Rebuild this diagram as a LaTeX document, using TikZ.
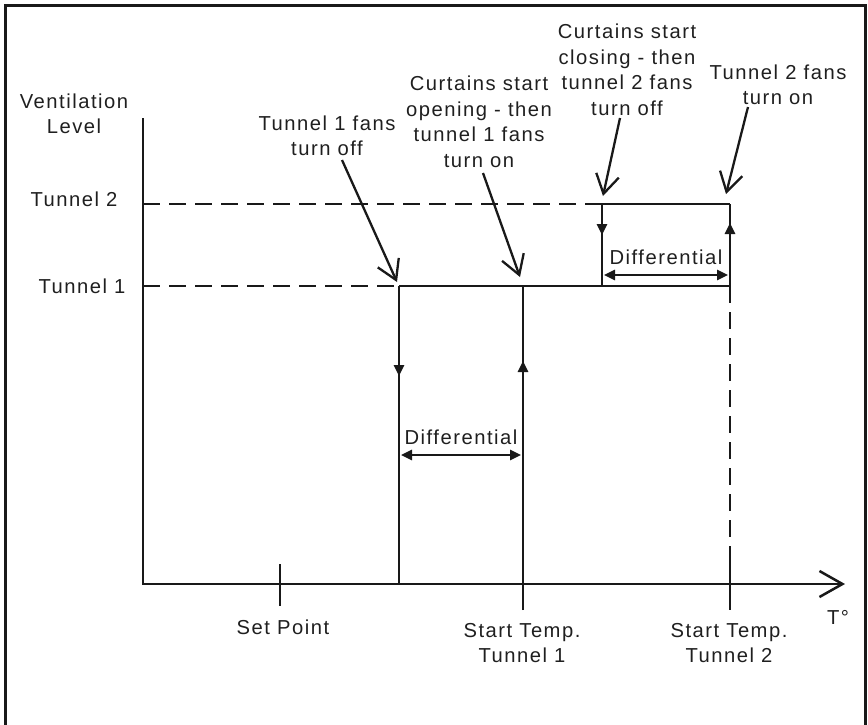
\documentclass[tikz,border=0pt]{standalone}
\usepackage{fontspec}
\setmainfont{Liberation Sans}[LetterSpace=7.5]
\usetikzlibrary{arrows.meta,decorations.markings}
\begin{document}
\begin{tikzpicture}[x=1pt,y=-1pt,
  every node/.style={inner sep=0pt, font=\fontsize{20.2}{25.5}\selectfont, align=center, text=black!88},
  ln/.style={line width=2.5pt, draw=black!90},
  dsh/.style={line width=2.5pt, draw=black!90, dash pattern=on 17pt off 9pt},
  ptr/.style={line width=2.3pt, draw=black!90, -{Straight Barb[length=19pt,width=23pt]}},
  dimarrow/.style={line width=2.5pt, draw=black!90, {Triangle[length=11pt,width=10pt]}-{Triangle[length=11pt,width=10pt]}},
  midtri/.style={postaction={decorate,decoration={markings,mark=at position #1 with {\arrow{Triangle[length=11pt,width=10pt]}}}}}
]
\useasboundingbox (0,0) rectangle (868,724);
% frame
\draw[line width=3pt, draw=black!90] (5,730) -- (5,5) -- (865,5) -- (865,730);

% coordinates
\coordinate (ytop) at (143,118);
\coordinate (O) at (143,584);
\coordinate (xend) at (845,584);
\coordinate (L2) at (143,204);
\coordinate (L1) at (143,286);
\coordinate (A1) at (399,286);
\coordinate (A0) at (399,584);
\coordinate (B1) at (523,286);
\coordinate (B0) at (523,610);
\coordinate (C2) at (602,204);
\coordinate (C1) at (602,286);
\coordinate (D2) at (730,204);
\coordinate (D1) at (730,286);
\coordinate (Dt) at (730,558);
\coordinate (D0) at (730,610);
\coordinate (SPt) at (280,564);
\coordinate (SPb) at (280,606);

% axes
\draw[ln,-{Straight Barb[length=23pt,width=26pt]}] (ytop) -- (O) -- (xend);
\draw[ln] (SPt) -- (SPb);

% levels
\draw[dsh] (L2) -- (C2);
\draw[dsh] (L1) -- (A1);
\draw[ln] (A1) -- (D1);
\draw[ln] (C2) -- (D2);

% verticals
\draw[ln,midtri=90pt] (A1) -- (A0);
\draw[ln,midtri=249pt] (B0) -- (B1);
\draw[ln,midtri=31pt] (C2) -- (C1);
\draw[ln,midtri=63pt] (D1) -- (D2);
\draw[dsh] (D1) -- (Dt);
\draw[ln] (Dt) -- (D0);

% differentials
\coordinate (d1a) at (401,455);
\coordinate (d1b) at (521,455);
\coordinate (d2a) at (604,275);
\coordinate (d2b) at (728,275);
\draw[dimarrow] (d1a) -- (d1b);
\draw[dimarrow] (d2a) -- (d2b);
\node (diff1) at (461,437) {Differential};
\node (diff2) at (666,257) {Differential};

% labels
\node (vent) at (74,114) {Ventilation\\Level};
\node (tun2) at (74,199) {Tunnel 2};
\node (tun1) at (82,286) {Tunnel 1};
\node (t1off) at (327,136) {Tunnel 1 fans\\turn off};
\node (opening) at (479,122) {Curtains start\\opening - then\\tunnel 1 fans\\turn on};
\node (closing) at (627,70) {Curtains start\\closing - then\\tunnel 2 fans\\turn off};
\node (t2on) at (778,85) {Tunnel 2 fans\\turn on};
\node (setp) at (283,627) {Set Point};
\node (st1) at (522,643) {Start Temp.\\Tunnel 1};
\node (st2) at (729,643) {Start Temp.\\Tunnel 2};
\node (tdeg) at (838,617) {T°};

% pointer arrows
\coordinate (p1s) at (342,160);
\coordinate (p1e) at (397,282);
\coordinate (p2s) at (483,173);
\coordinate (p2e) at (520,277);
\coordinate (p3s) at (620,118);
\coordinate (p3e) at (603,196);
\coordinate (p4s) at (748,107);
\coordinate (p4e) at (726,194);
\draw[ptr] (p1s) -- (p1e);
\draw[ptr] (p2s) -- (p2e);
\draw[ptr] (p3s) -- (p3e);
\draw[ptr] (p4s) -- (p4e);
\end{tikzpicture}
\end{document}
